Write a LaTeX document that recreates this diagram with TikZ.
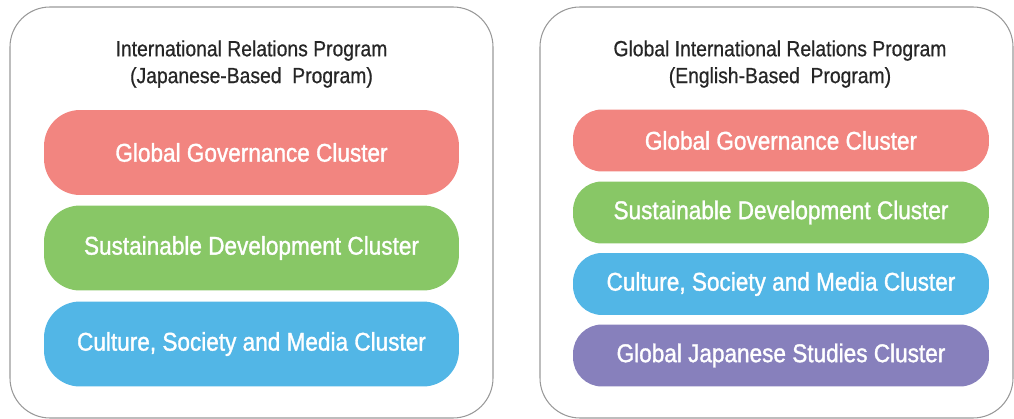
\documentclass[tikz,border=0pt]{standalone}
\usepackage{fontspec}
\setmainfont{Liberation Sans}[FakeStretch=0.88]
\newfontfamily\clusterfont{Liberation Sans}[FakeStretch=0.88, FakeBold=1.3]
\newfontfamily\headfont{Liberation Sans}[FakeStretch=0.88, FakeBold=0.7]
\definecolor{govred}{HTML}{F28580}
\definecolor{susgreen}{HTML}{88C766}
\definecolor{culblue}{HTML}{52B6E6}
\definecolor{japurple}{HTML}{8780BC}
\definecolor{frame}{HTML}{999999}
\tikzset{
    cluster/.style={fill=#1, draw=none, text=white, font=\clusterfont\fontsize{14.6}{17}\selectfont},
    bigcl/.style={minimum width=8.3cm, minimum height=1.7cm, rounded corners=0.72cm},
    smallcl/.style={minimum width=8.32cm, minimum height=1.24cm, rounded corners=0.58cm},
    heading/.style={align=center, text=black!85, font=\headfont\fontsize{12.5}{15.3}\selectfont},
}
\begin{document}
\begin{tikzpicture}[x=0.02cm, y=-0.02cm]
    \useasboundingbox (0,0) rectangle (1014,419);
    \draw [frame, line width=0.6pt, rounded corners=0.8cm] (10,7) rectangle (493,418);
    \draw [frame, line width=0.6pt, rounded corners=0.8cm] (540,7) rectangle (1013,418);

    \node [heading] (jphead) at (251.5,64) {International Relations Program\\(Japanese-Based~ Program)};
    \node [heading] (enhead) at (780,64) {Global International Relations Program\\(English-Based~ Program)};

    \foreach \y/\txt/\col/\name in {
        152.5/Global Governance Cluster/govred/jpgov,
        248/Sustainable Development Cluster/susgreen/jpsus,
        344/{Culture, Society and Media Cluster}/culblue/jpcul
     } {
        \node [cluster=\col, bigcl] (\name) at (251.5, \y) {\txt};
    }
    \foreach \y/\txt/\col/\name in {
        140.5/Global Governance Cluster/govred/engov,
        212.5/Sustainable Development Cluster/susgreen/ensus,
        284/{Culture, Society and Media Cluster}/culblue/encul,
        355.5/Global Japanese Studies Cluster/japurple/enjap
     } {
        \node [cluster=\col, smallcl] (\name) at (781, \y) {\txt};
    }
\end{tikzpicture}
\end{document}
